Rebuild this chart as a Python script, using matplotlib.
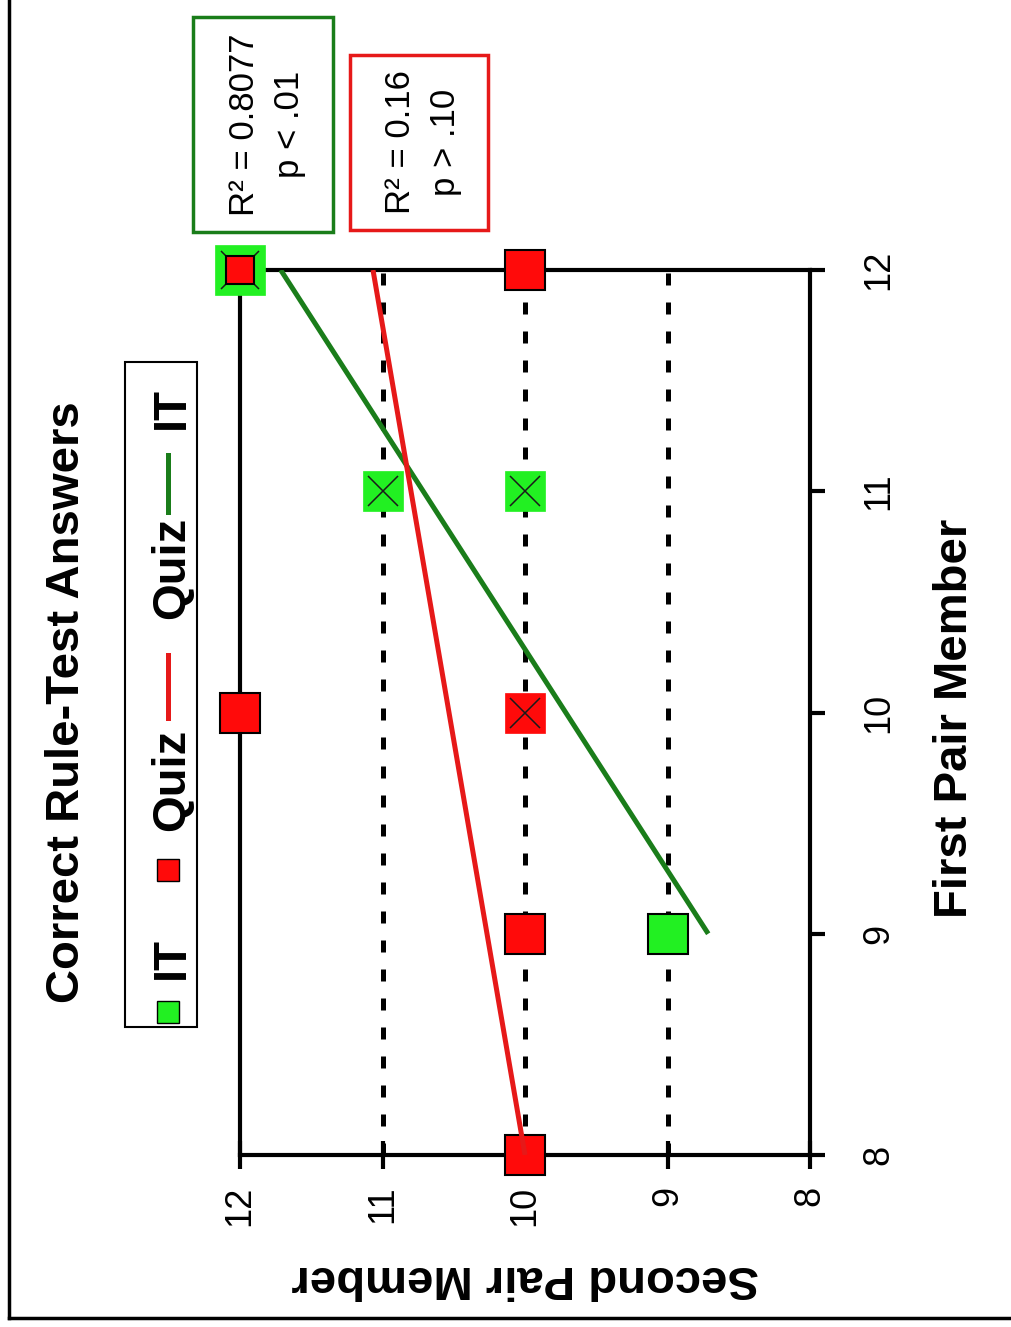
import numpy as np
import matplotlib
matplotlib.use('Agg')
import matplotlib.pyplot as plt
from matplotlib.lines import Line2D
from matplotlib.patches import Rectangle

plt.rcParams['font.family'] = ['Liberation Sans', 'DejaVu Sans']

# scores of the first and second pair member, n = pairs sharing that spot
it_first = [12, 11, 11, 9]
it_second = [12, 11, 10, 9]
it_n = [2, 2, 2, 1]

quiz_first = [12, 12, 10, 10, 9, 8]
quiz_second = [12, 10, 12, 10, 10, 10]
quiz_n = [1, 1, 1, 2, 1, 1]

it_stats = 'R\u00b2 = 0.8077\np < .01'
quiz_stats = 'R\u00b2 = 0.16\np > .10'

ticks = [8, 9, 10, 11, 12]
grid_at = [9, 10, 11]

W, H = 1011, 1327
GREEN_FILL = '#22f022'
GREEN_LINE = '#1a7d1a'
RED_FILL = '#ff0a0a'
RED_LINE = '#e61919'


def px(x, y):
    # pixel position (from top left) -> figure fraction
    return x / W, 1 - y / H


fig = plt.figure(figsize=(W / 100, H / 100), dpi=100)
# whole chart is laid on its side: first member runs up, second member runs left
ax = fig.add_axes([240 / W, 1 - 1155 / H, 570 / W, 885 / H])
ax.set_xlim(12, 8)
ax.set_ylim(8, 12)

for v in grid_at:
    ax.axvline(v, color='k', lw=3.6, ls=(0, (2.4, 3.4)), zorder=1)

for sp in ax.spines.values():
    sp.set_linewidth(3)
    sp.set_zorder(2)

shared = set(zip(it_first, it_second)) & set(zip(quiz_first, quiz_second))


def draw_points(first, second, counts, fill, small):
    for f, s, n in zip(first, second, counts):
        size = 29
        if (f, s) in shared:
            size = 20 if small else 36
        if n > 1:
            ax.plot(s, f, 's', ms=size, mfc=fill, mec=fill, mew=0.5,
                    zorder=3, clip_on=False)
            ax.plot(s, f, 'x', ms=size * 0.75, color='#1a1a1a', mew=1.1,
                    zorder=3, clip_on=False)
        else:
            ax.plot(s, f, 's', ms=size, mfc=fill, mec='k', mew=1.5,
                    zorder=3, clip_on=False)


draw_points(it_first, it_second, it_n, GREEN_FILL, small=False)
draw_points(quiz_first, quiz_second, quiz_n, RED_FILL, small=True)

# least-squares fits over every pair (repeated spots counted n times)
for first, second, counts, col in [(it_first, it_second, it_n, GREEN_LINE),
                                   (quiz_first, quiz_second, quiz_n, RED_LINE)]:
    xs = np.repeat(first, counts)
    ys = np.repeat(second, counts)
    k, b = np.polyfit(xs, ys, 1)
    xr = np.array([xs.min(), xs.max()])
    ax.plot(k * xr + b, xr, color=col, lw=3.6, zorder=4, solid_capstyle='butt')

ax.set_xticks(ticks)
ax.set_yticks(ticks)
ax.xaxis.tick_bottom()
ax.yaxis.tick_right()
ax.tick_params(axis='x', direction='inout', length=20, width=3,
               labelsize=26, labelrotation=90, pad=12)
ax.tick_params(axis='y', direction='out', length=11, width=3,
               labelsize=26, labelrotation=90, pad=26)
for lbl in ax.get_yticklabels():
    lbl.set_va('center')

fig.text(*px(955, 718), 'First Pair Member', rotation=90, fontsize=34,
         fontweight='bold', ha='center', va='center')
fig.text(*px(525, 1278), 'Second Pair Member', rotation=180, fontsize=34,
         fontweight='bold', ha='center', va='center')
fig.text(*px(67, 702), 'Correct Rule-Test Answers', rotation=90, fontsize=34,
         fontweight='bold', ha='center', va='center')

# legend box, entries run bottom to top
x0, y0 = px(125, 1027)
x1, y1 = px(197, 362)
fig.add_artist(Rectangle((x0, y0), x1 - x0, y1 - y0, transform=fig.transFigure,
                         fc='white', ec='k', lw=1.5))
fig.add_artist(Line2D([px(168, 0)[0]], [px(0, 1012)[1]], marker='s', ms=16,
                      mfc=GREEN_FILL, mec='k', mew=1, ls='none',
                      transform=fig.transFigure))
fig.add_artist(Line2D([px(168, 0)[0]], [px(0, 870)[1]], marker='s', ms=16,
                      mfc=RED_FILL, mec='k', mew=1, ls='none',
                      transform=fig.transFigure))
fig.add_artist(Line2D([px(168, 0)[0]] * 2, [px(0, 718)[1], px(0, 655)[1]],
                      color=RED_LINE, lw=3.6, transform=fig.transFigure))
fig.add_artist(Line2D([px(168, 0)[0]] * 2, [px(0, 512)[1], px(0, 455)[1]],
                      color=GREEN_LINE, lw=3.6, transform=fig.transFigure))
for label, yy in [('IT', 958), ('Quiz', 780), ('Quiz', 568), ('IT', 408)]:
    fig.text(*px(172, yy), label, rotation=90, fontsize=34, fontweight='bold',
             ha='center', va='center')

# fit statistics boxes
for (bx0, by0, bx1, by1), txt, col in [((193, 17, 333, 232), it_stats, GREEN_LINE),
                                       ((350, 55, 488, 230), quiz_stats, RED_LINE)]:
    a, b = px(bx0, by1)
    c, d = px(bx1, by0)
    fig.add_artist(Rectangle((a, b), c - a, d - b, transform=fig.transFigure,
                             fc='white', ec=col, lw=2.5))
    fig.text(*px((bx0 + bx1) / 2 + 4, (by0 + by1) / 2), txt, rotation=90,
             fontsize=25, ha='center', va='center', multialignment='center',
             linespacing=1.5)

# page border on the left and bottom
fig.add_artist(Line2D([px(9, 0)[0]] * 2, [1, px(0, 1318)[1]], color='k', lw=2.5,
                      transform=fig.transFigure))
fig.add_artist(Line2D([px(9, 0)[0], 1], [px(0, 1318)[1]] * 2, color='k', lw=2.5,
                      transform=fig.transFigure))

fig.savefig('out.png', dpi=100)
